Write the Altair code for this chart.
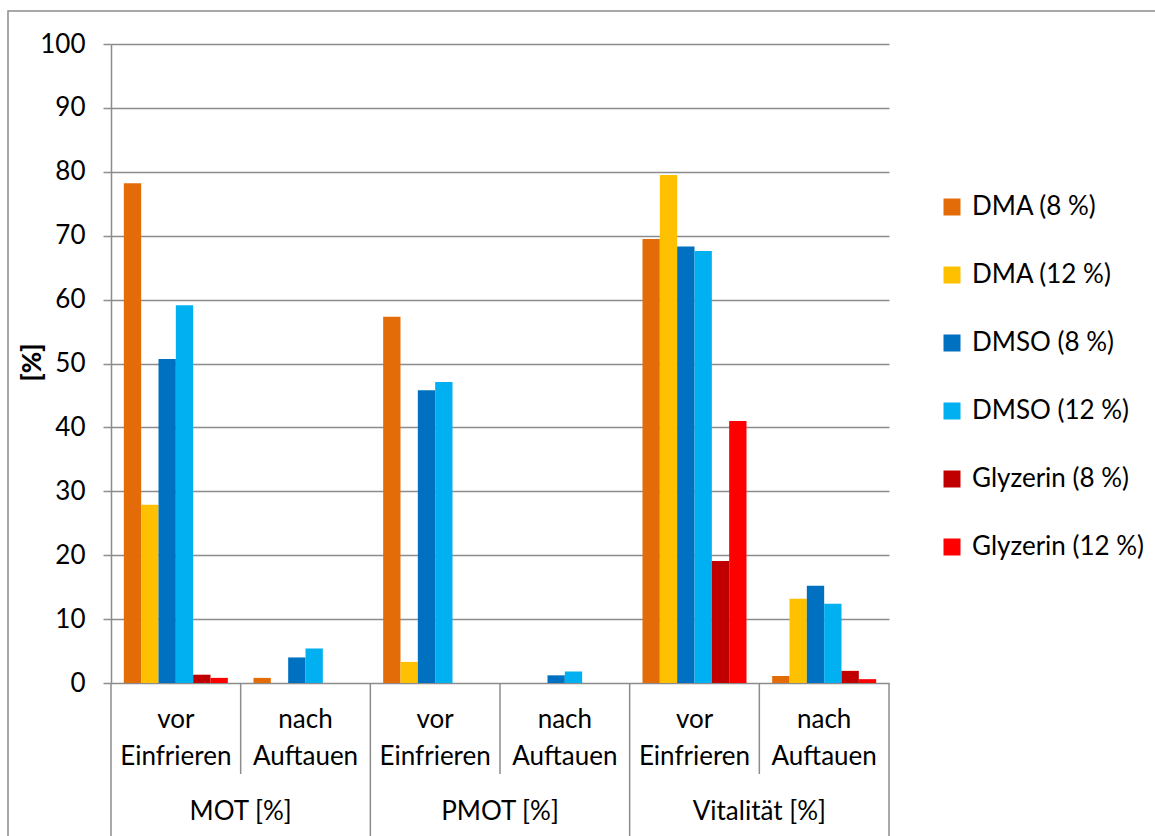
import altair as alt
import pandas as pd

# Measurement groups and time points
categories = ["MOT [%]", "PMOT [%]", "Vitalität [%]"]
phases = ["vor Einfrieren", "nach Auftauen"]
phase_labels = ["vor\nEinfrieren", "nach\nAuftauen"]

# Cryoprotectant series
series = ["DMA (8 %)", "DMA (12 %)", "DMSO (8 %)", "DMSO (12 %)",
          "Glyzerin (8 %)", "Glyzerin (12 %)"]
colors = ["#E36C09", "#FFC000", "#0070C0", "#00B0F0", "#C00000", "#FF0000"]

# Values per series, in group order:
# MOT vor, MOT nach, PMOT vor, PMOT nach, Vitalität vor, Vitalität nach
dma_8 = [78.2, 0.8, 57.3, 0.0, 69.5, 1.1]
dma_12 = [27.9, 0.0, 3.3, 0.0, 79.5, 13.2]
dmso_8 = [50.7, 4.0, 45.8, 1.2, 68.3, 15.2]
dmso_12 = [59.1, 5.4, 47.1, 1.8, 67.6, 12.4]
gly_8 = [1.3, 0.0, 0.0, 0.0, 19.1, 1.9]
gly_12 = [0.8, 0.0, 0.0, 0.0, 41.0, 0.6]
values = [dma_8, dma_12, dmso_8, dmso_12, gly_8, gly_12]

FONT = "Lato"
FS = 26
GRAY = "#8C8C8C"

group_keys = [f"{c} | {p}" for c in categories for p in phases]

rows = []
for s, vals in zip(series, values):
    for g, v in zip(group_keys, vals):
        rows.append({"group": g, "series": s, "value": v})
bars_df = pd.DataFrame(rows)

groups_df = pd.DataFrame({
    "group": group_keys,
    "label": [pl for _ in categories for pl in phase_labels],
})
vor_groups = [f"{c} | {phases[0]}" for c in categories]
nach_groups = [f"{c} | {phases[1]}" for c in categories]
cat_df = pd.DataFrame({"group": vor_groups, "label": categories})

x_scale = alt.Scale(domain=group_keys, paddingInner=0, paddingOuter=0)

bars = alt.Chart(bars_df).mark_bar().encode(
    x=alt.X("group:N", scale=x_scale, axis=None),
    xOffset=alt.XOffset("series:N", sort=series,
                        scale=alt.Scale(paddingInner=0, paddingOuter=0.74)),
    y=alt.Y("value:Q",
            scale=alt.Scale(domain=[0, 100], nice=False),
            axis=alt.Axis(values=list(range(0, 101, 10)), title="[%]",
                          titleFont=FONT, titleFontSize=FS, titleFontWeight=900,
                          titleColor="black", titleAngle=270, titleX=-79, titleY=318,
                          titleAlign="center", titleBaseline="middle",
                          labelFont=FONT, labelFontSize=FS, labelColor="black",
                          labelPadding=18, tickSize=8, tickColor=GRAY, tickWidth=1.5,
                          domainColor=GRAY, domainWidth=1.5,
                          grid=True, gridColor=GRAY, gridWidth=1.5)),
    color=alt.Color("series:N", sort=series,
                    scale=alt.Scale(domain=series, range=colors),
                    legend=alt.Legend(title=None, orient="none", legendX=828, legendY=150,
                                      symbolType="square", symbolSize=289,
                                      symbolStrokeWidth=0, labelFont=FONT,
                                      labelFontSize=FS, labelColor="black",
                                      labelLimit=400,
                                      labelOffset=7, rowPadding=42, padding=0)),
)

# Two-line time point labels under each group
phase_text = alt.Chart(groups_df).mark_text(
    font=FONT, fontSize=FS, color="black", lineBreak="\n", lineHeight=37,
    baseline="middle", align="center",
).encode(
    x=alt.X("group:N", scale=x_scale, axis=None),
    y=alt.value(676),
    text="label:N",
)

# Category labels centred under each pair of groups
cat_text = alt.Chart(cat_df).mark_text(
    font=FONT, fontSize=FS, color="black", baseline="middle", align="center",
).encode(
    x=alt.X("group:N", scale=x_scale, axis=None, bandPosition=1),
    y=alt.value(768),
    text="label:N",
)

# Separators of the multi-level category axis
main_sep = alt.Chart(pd.DataFrame({"group": vor_groups})).mark_rule(
    color=GRAY, strokeWidth=1.5).encode(
    x=alt.X("group:N", scale=x_scale, axis=None, bandPosition=0),
    y=alt.value(639), y2=alt.value(800),
)
end_sep = alt.Chart(pd.DataFrame({"group": [group_keys[-1]]})).mark_rule(
    color=GRAY, strokeWidth=1.5).encode(
    x=alt.X("group:N", scale=x_scale, axis=None, bandPosition=1),
    y=alt.value(639), y2=alt.value(800),
)
sub_sep = alt.Chart(pd.DataFrame({"group": nach_groups})).mark_rule(
    color=GRAY, strokeWidth=1.5).encode(
    x=alt.X("group:N", scale=x_scale, axis=None, bandPosition=0),
    y=alt.value(639), y2=alt.value(730),
)

# Chart-area frame
frame = alt.Chart(pd.DataFrame({"k": [0]})).mark_rect(
    fillOpacity=0, stroke=GRAY, strokeWidth=1.5).encode(
    x=alt.value(-103), x2=alt.value(1300),
    y=alt.value(-33), y2=alt.value(1000),
)

chart = alt.layer(frame, bars, main_sep, end_sep, sub_sep, phase_text, cat_text).properties(
    width=778, height=639,
    padding={"left": 111, "top": 44, "right": 266, "bottom": 153},
    autosize=alt.AutoSizeParams(type="none"),
    background="white",
).configure_view(stroke=None).resolve_scale(x="shared")

chart.save("out.html", embed_options={"renderer": "svg", "actions": False})
